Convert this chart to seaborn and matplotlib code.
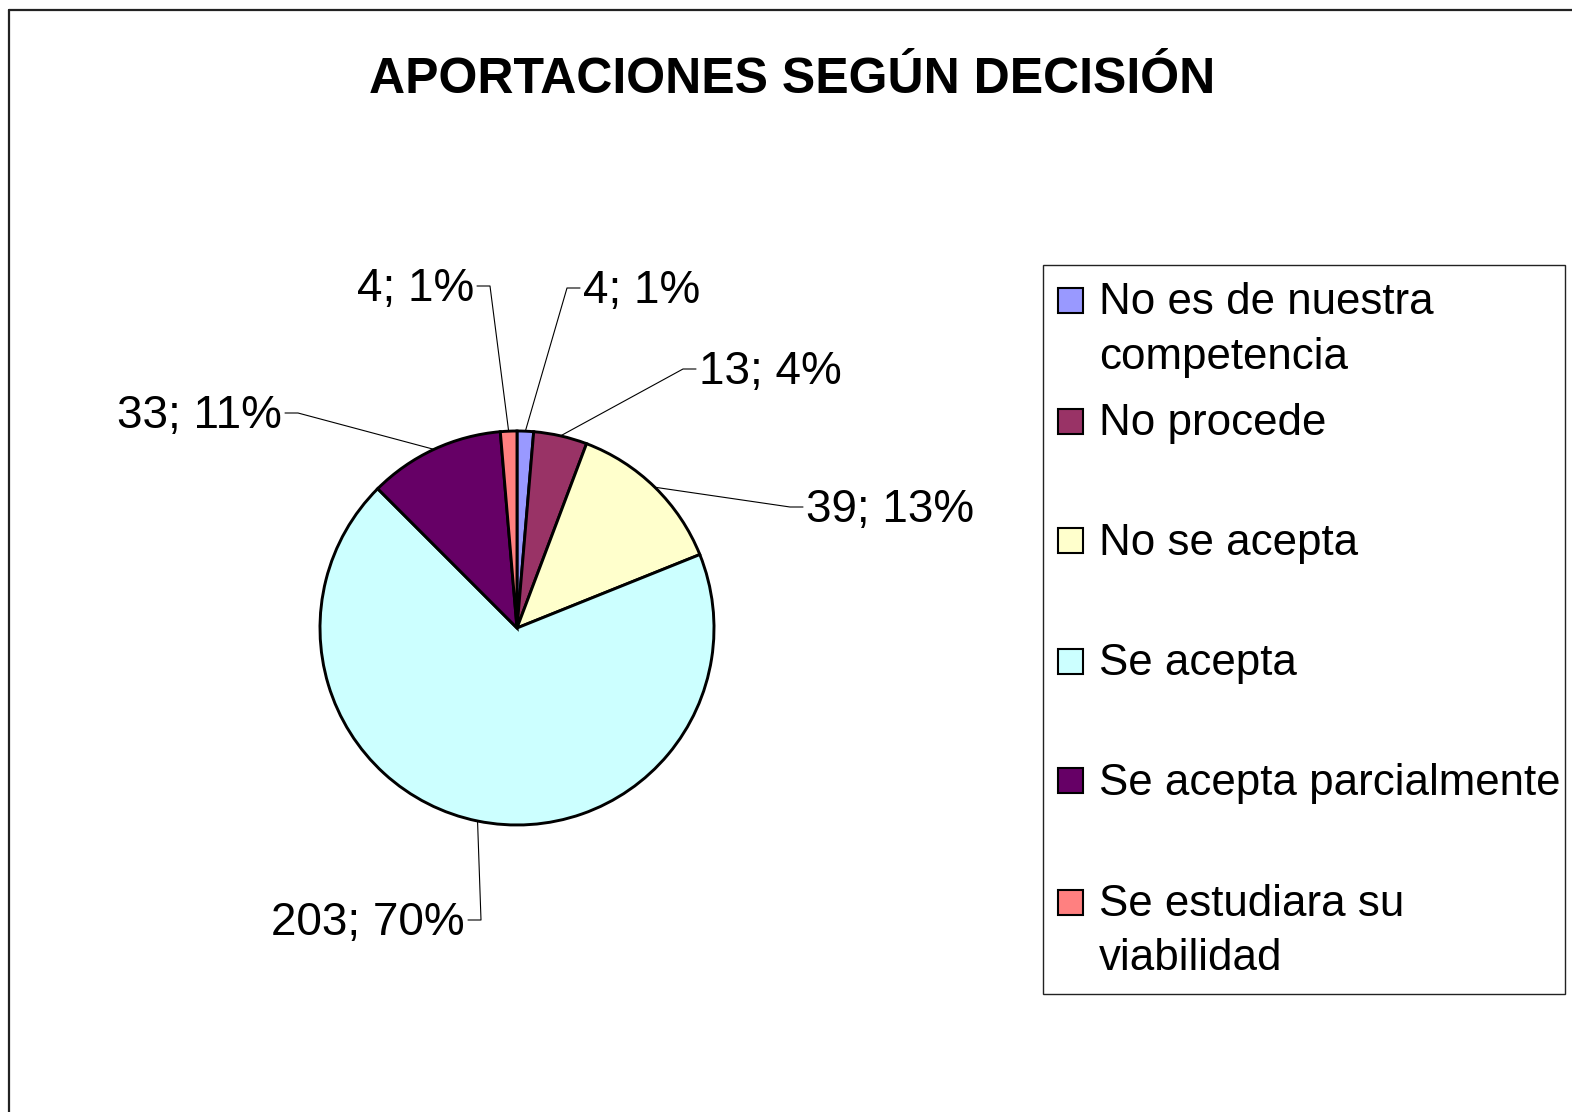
import matplotlib
matplotlib.use("Agg")
import matplotlib.pyplot as plt
import seaborn as sns
import numpy as np
from matplotlib.patches import Rectangle

# -----------------------------
# DATA
# -----------------------------
categories = ["No es de nuestra\ncompetencia", "No procede", "No se acepta",
              "Se acepta", "Se acepta parcialmente", "Se estudiara su\nviabilidad"]
values = [4, 13, 39, 203, 33, 4]
percent_labels = ["1%", "4%", "13%", "70%", "11%", "1%"]
colors = ["#9999FF", "#993366", "#FFFFCC", "#CCFFFF", "#660066", "#FF8080"]
title = "APORTACIONES SEGÚN DECISIÓN"

# -----------------------------
# STYLE
# -----------------------------
sns.set_style("white")
plt.rcParams['font.family'] = ['Liberation Sans', 'DejaVu Sans']
plt.rcParams['text.color'] = 'black'

W, H = 1572, 1112
fig = plt.figure(figsize=(W / 100, H / 100), dpi=100)
ax = fig.add_axes([0, 0, 1, 1])

# pixel-like coords, y measured from top
def Y(y):
    return H - y

cx, cy, r = 517, 628, 197

wedges, _ = ax.pie(values, colors=colors, startangle=90, counterclock=False,
                   center=(cx, Y(cy)), radius=r,
                   wedgeprops=dict(edgecolor="black", linewidth=2.1))

# label layout: elbow point (image px) and side of text
elbows = [(567, 288), (683, 369), (790, 507), (481, 920), (298, 413), (490, 286)]
sides = ["right", "right", "right", "left", "left", "left"]

for w, val, pct, (ex, ey), side in zip(wedges, values, percent_labels, elbows, sides):
    ang = np.deg2rad((w.theta1 + w.theta2) / 2)
    px = cx + r * np.cos(ang)
    py = Y(cy) + r * np.sin(ang)
    hx = ex + 13 if side == "right" else ex - 13
    ax.plot([px, ex, hx], [py, Y(ey), Y(ey)], color="black", lw=0.8)
    if side == "right":
        ax.text(hx + 3, Y(ey) - 3, f"{val}; {pct}", ha="left", va="center", fontsize=33)
    else:
        ax.text(hx - 3, Y(ey) - 3, f"{val}; {pct}", ha="right", va="center", fontsize=33)

# title
ax.text(792, Y(80), title, ha="center", va="center", fontsize=36, fontweight="bold")

# legend box
ax.add_patch(Rectangle((1043, Y(994)), 1565 - 1043, 994 - 265, fill=False,
                       edgecolor="#222222", lw=1.0))
entry_y = [300, 421, 540, 661, 780, 902]
for lab, col, ey in zip(categories, colors, entry_y):
    ax.add_patch(Rectangle((1058, Y(ey) - 12.5), 25, 25, facecolor=col,
                           edgecolor="black", lw=1.5))
    for i, line in enumerate(lab.split("\n")):
        ax.text(1099, Y(ey + i * 54) - 3, line, ha="left", va="center", fontsize=31.6)

# outer frame (left and top edges)
ax.plot([9, 9], [Y(10), -5], color="#222222", lw=1.6)
ax.plot([9, W + 5], [Y(10), Y(10)], color="#222222", lw=1.6)

ax.set_xlim(0, W)
ax.set_ylim(0, H)
ax.axis("off")

plt.savefig("out.png", dpi=100)
